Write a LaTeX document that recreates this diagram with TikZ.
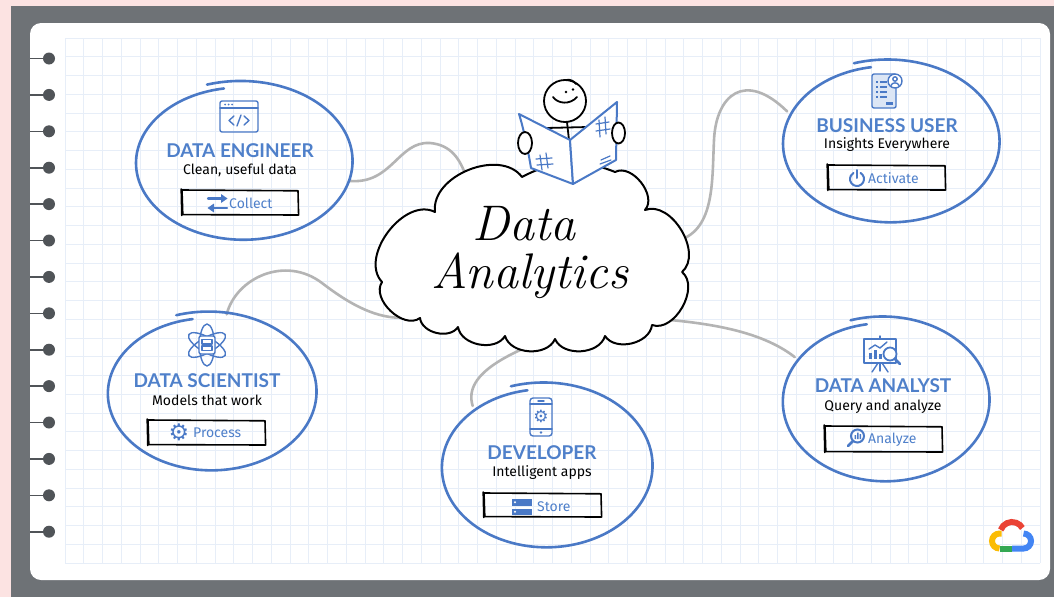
\documentclass[tikz,border=0pt]{standalone}
\usepackage{fontspec}
\usetikzlibrary{shapes.geometric}
\newfontfamily\uifont{Fira Sans}
\newfontfamily\headfont{Lato}
\newfontfamily\glyphfont{DejaVu Sans}

\definecolor{pinkbg}{HTML}{FCE3E2}
\definecolor{framec}{HTML}{6E7276}
\definecolor{holec}{HTML}{505458}
\definecolor{gridc}{HTML}{E7EEF8}
\definecolor{ink}{HTML}{4A79C6}
\definecolor{titleblue}{HTML}{4F80CA}
\definecolor{wirec}{HTML}{B4B4B4}
\definecolor{iconfill}{HTML}{DCE6F5}
\definecolor{gred}{HTML}{EA4335}
\definecolor{gyellow}{HTML}{FBBC04}
\definecolor{ggreen}{HTML}{34A853}
\definecolor{gblue}{HTML}{4285F4}

\tikzset{
  ring/.style={draw=ink, line width=2.6pt, line cap=round},
  wire/.style={draw=wirec, line width=2.6pt, line cap=round},
  zone/.style={ellipse, inner sep=0pt, draw=none},
  title/.style={text=titleblue, font=\headfont\bfseries\fontsize{19}{21}\selectfont, inner sep=0pt},
  tagline/.style={text=black, font=\uifont\fontsize{14}{16}\selectfont, inner sep=0pt},
  btnlabel/.style={text=titleblue, font=\uifont\fontsize{14}{16}\selectfont, inner sep=0pt, anchor=west},
  btnglyph/.style={text=ink, font=\glyphfont\fontsize{23}{23}\selectfont, inner sep=0pt},
  btnframe/.style={draw=black, line width=1.6pt, line join=round, line cap=round},
  iconline/.style={draw=ink, line width=1.4pt, line cap=round, line join=round},
  inkline/.style={draw=black, line width=1.8pt, line cap=round, line join=round},
  bookline/.style={draw=ink, line width=2pt, line cap=round, line join=round},
  logo/.style={line width=6pt},
}

% hand-drawn ring: the stroke starts inside at the top and overlaps itself
\newcommand\sketchring[4]{%
  \draw[ring] plot[domain=100:468, samples=160, smooth]
    ({#1+#3*(0.945+0.085*(\x-100)/368)*cos(\x)},
     {#2-#4*(0.945+0.085*(\x-100)/368)*sin(\x)});}

% slightly uneven button frame
\newcommand\sketchbox[4]{%
  \draw[btnframe] (#1,#2) -- (#3,{#2+0.8}) -- ({#3+0.6},#4) -- ({#1+0.8},{#4-0.4}) -- cycle;
  \draw[btnframe] ({#1-0.8},{#2-1}) -- ({#1-0.2},{#4+0.5});}

\begin{document}
\begin{tikzpicture}[x=1pt,y=-1pt]
\useasboundingbox (0,0) rectangle (1054,597);

% backdrop, frame and notebook page
\fill[pinkbg] (0,0) rectangle (1054,597);
\fill[framec] (11,6) rectangle (1054,597);
\fill[white, rounded corners=11pt] (30,23) rectangle (1050,580);

% squared paper
\foreach \i in {0,...,52}
  \draw[gridc, line width=1pt] ({65+18.75*\i},38) -- ({65+18.75*\i},563);
\foreach \j in {0,...,28}
  \draw[gridc, line width=1pt] (65,{38+18.75*\j}) -- (1040,{38+18.75*\j});

% binding holes
\foreach \k in {0,...,13} {
  \draw[holec, line width=1.6pt] (30,{58.5+36.4*\k}) -- (46,{58.5+36.4*\k});
  \fill[holec] (49,{58.5+36.4*\k}) circle[radius=6];
}

% outline zones of the five roles
\node[zone, minimum width=220pt, minimum height=158pt] (de)  at (242,162)   {};
\node[zone, minimum width=220pt, minimum height=162pt] (bu)  at (889,142.6) {};
\node[zone, minimum width=212pt, minimum height=158pt] (ds)  at (210,392.6) {};
\node[zone, minimum width=214pt, minimum height=164pt] (dev) at (545,466.6) {};
\node[zone, minimum width=210pt, minimum height=164pt] (da)  at (884,400.6) {};

% anchor points on the cloud
\coordinate (cl-nw) at (466,176);
\coordinate (cl-ne) at (680,240);
\coordinate (cl-w)  at (420,315);
\coordinate (cl-s)  at (566,332);
\coordinate (cl-se) at (645,318);

% grey connectors
\draw[wire] (de.-10) .. controls (392,185) and (398,141) .. (430,143)
            .. controls (452,145) and (460,160) .. (cl-nw);
\draw[wire] (cl-ne) .. controls (715,228) and (712,180) .. (714,140)
            .. controls (716,95) and (745,70) .. (bu.163);
\draw[wire] (ds.78) .. controls (236,278) and (285,255) .. (322,283)
            .. controls (352,306) and (385,325) .. (cl-w);
\draw[wire] (dev.140) .. controls (462,372) and (515,350) .. (cl-s);
\draw[wire] (da.154) .. controls (760,330) and (705,322) .. (cl-se);

% rings
\sketchring{242}{162}{110}{79}
\sketchring{889}{142.6}{110}{81}
\sketchring{210}{392.6}{106}{79}
\sketchring{545}{466.6}{107}{82}
\sketchring{884}{400.6}{105}{82}

% central cloud
\draw[black, line width=2pt, fill=white, line join=round]
  (435,212) to[bend left=75] (522,177) to[bend left=25] (615,172)
  to[bend left=80] (645,210) to[bend left=80] (682,272)
  to[bend left=80] (652,325) to[bend left=70] (605,336)
  to[bend left=70] (555,339) to[bend left=70] (505,336)
  to[bend left=70] (458,327) to[bend left=70] (420,318)
  to[bend left=80] (382,282) to[bend left=80] cycle;
\node[font=\itshape\fontsize{50}{50}\selectfont, inner sep=0pt] (word1) at (524,224) {Data};
\node[font=\itshape\fontsize{50}{50}\selectfont, inner sep=0pt] (word2) at (530,276) {Analytics};

% reader sitting on the cloud
\draw[inkline, fill=white] (565,101) circle[radius=21];
\fill (566,92) circle[radius=1.4];
\fill (573,89.5) circle[radius=1.4];
\draw[inkline] (553,97) .. controls (558,104) and (570,105) .. (577,97);
\draw[inkline] (566,80) .. controls (570,79) and (574,81) .. (576,84);
\draw[inkline] (567,122) -- (569,140);
\draw[inkline] (546,128) -- (588,127);
\draw[bookline, fill=white] (519,114) -- (570,140) -- (573,184)
  -- (531,168) .. controls (528,150) and (524,130) .. cycle;
\draw[bookline, fill=white] (570,140) -- (617,102) -- (616,160) -- (573,184) -- cycle;
\draw[ink, line width=1.2pt, line cap=round]
  (540,155) -- (542,170) (546,153) -- (548,168)
  (536,159) -- (552,158) (537,165) -- (553,164)
  (599,120) -- (600,137) (605,117) -- (606,134)
  (596,124) -- (609,122) (596,131) -- (610,129)
  (601,160) -- (610,156) (600,164) -- (611,160);
\draw[inkline, fill=white] (525,143) ellipse[x radius=7, y radius=11];
\draw[inkline, fill=white] (618.5,133) ellipse[x radius=6.5, y radius=10.5];

% ---- Data Engineer
\begin{scope}[shift={(239,116)}]
  \draw[iconline, rounded corners=2pt] (-19,-15) rectangle (19,16);
  \draw[iconline] (-19,-8) -- (19,-8);
  \foreach \d in {-14,-10.5,-7} \fill[ink] (\d,-11.5) circle[radius=1];
  \draw[iconline] (-5,0) -- (-10,4.5) -- (-5,9);
  \draw[iconline] (5,0) -- (10,4.5) -- (5,9);
  \draw[iconline] (2,-1) -- (-2,10);
\end{scope}
\node[title]   (de-title) at (240,151) {DATA ENGINEER};
\node[tagline] (de-sub)   at (240,170) {Clean, useful data};
\sketchbox{182}{190}{298}{215}
% swap arrows
\draw[ink, line width=2.2pt, line cap=round] (208,198.5) -- (223,198.5);
\fill[ink] (221,194) -- (227.5,198.5) -- (221,203) -- cycle;
\draw[ink, line width=2.2pt, line cap=round] (212,208) -- (227,208);
\fill[ink] (214,203.5) -- (207.5,208) -- (214,212.5) -- cycle;
\node[btnlabel] (de-btn) at (229,203) {Collect};

% ---- Business User
\begin{scope}[shift={(886,91)}]
  \draw[iconline, fill=iconfill, rounded corners=2pt] (-14,-17) rectangle (10,17);
  \foreach \r in {-9,-4,1,6} {
    \fill[ink] (-10.5,{\r-1.2}) rectangle (-8,{\r+1.2});
    \draw[ink, line width=1.2pt] (-6,\r) -- (1,\r);
  }
  \fill[ink] (0,11) rectangle (7,13.5);
  \draw[iconline, fill=white] (9,-10) circle[radius=7];
  \draw[iconline] (9,-12) circle[radius=2.2];
  \draw[iconline] (5,-5.5) .. controls (6,-9) and (12,-9) .. (13,-5.5);
\end{scope}
\node[title]   (bu-title) at (887,126) {BUSINESS USER};
\node[tagline] (bu-sub)   at (887,145) {Insights Everywhere};
\sketchbox{828}{165}{945}{190}
\draw[ink, line width=2pt, line cap=round] (857,170) -- (857,178);
\draw[ink, line width=2pt, line cap=round]
  ([shift={(300:7)}]857,179) arc[start angle=300, end angle=600, radius=7];
\node[btnlabel] (bu-btn) at (868,178) {Activate};

% ---- Data Scientist
\begin{scope}[shift={(207,345)}]
  \foreach \a in {30,90,150}
    \draw[iconline, rotate=\a] (0,0) ellipse[x radius=21, y radius=7.5];
  \draw[iconline, fill=white, rounded corners=2pt] (-8,-9) rectangle (8,9);
  \draw[iconline] (-5,-5.5) rectangle (5,-1);
  \draw[iconline] (-5,1) rectangle (5,5.5);
\end{scope}
\node[title]   (ds-title) at (207,381) {DATA SCIENTIST};
\node[tagline] (ds-sub)   at (207,400) {Models that work};
\sketchbox{148}{420}{265}{445}
\node[btnglyph] (ds-glyph) at (179,432.5) {⚙};
\node[btnlabel] (ds-btn)   at (193,433) {Process};

% ---- Developer
\begin{scope}[shift={(541,417)}]
  \draw[iconline, rounded corners=3pt] (-11,-19) rectangle (11,19);
  \draw[iconline] (-11,-13) -- (11,-13);
  \draw[iconline] (-11,12) -- (11,12);
  \draw[iconline] (-3,-16) -- (3,-16);
  \fill[ink] (0,15.5) circle[radius=1.3];
  \node[text=ink, font=\glyphfont\fontsize{17}{17}\selectfont, inner sep=0pt] (dev-gear) at (0,-0.5) {⚙};
\end{scope}
\node[title]   (dev-title) at (542,453) {DEVELOPER};
\node[tagline] (dev-sub)   at (542,473) {Intelligent apps};
\sketchbox{484}{493}{601}{517}
\fill[ink] (512,499) rectangle (532,505.5);
\fill[ink] (512,508.5) rectangle (532,515);
\fill[white] (515,502.2) circle[radius=1.1];
\fill[white] (515,511.7) circle[radius=1.1];
\node[btnlabel] (dev-btn) at (537,507) {Store};

% ---- Data Analyst
\begin{scope}[shift={(882,353)}]
  \draw[iconline] (-18,-14) rectangle (14,10);
  \draw[iconline] (-2,-14) -- (-2,-17);
  \draw[iconline] (-2,10) -- (-2,18);
  \draw[iconline] (-4,10) -- (-10,19);
  \draw[iconline] (0,10) -- (6,19);
  \fill[ink] (-13,0) rectangle (-10,6);
  \fill[ink] (-8,-3) rectangle (-5,6);
  \fill[ink] (-3,1) rectangle (0,6);
  \draw[iconline] (-13,-4) -- (-7,-8) -- (-2,-5) -- (5,-11);
  \draw[iconline, fill=white, line width=1.8pt] (8,1) circle[radius=6.5];
  \draw[ink, line width=2.6pt, line cap=round] (12.8,5.8) -- (18,11);
\end{scope}
\node[title]   (da-title) at (883,386) {DATA ANALYST};
\node[tagline] (da-sub)   at (883,407) {Query and analyze};
\sketchbox{825}{426}{942}{452}
\draw[ink, line width=2pt] (857.5,436) circle[radius=6.5];
\fill[ink] (854.5,435) rectangle (856,439) (857,432.5) rectangle (858.5,439) (859.5,434) rectangle (861,439);
\draw[ink, line width=2.6pt, line cap=round] (853,441) -- (848,446);
\node[btnlabel] (da-btn) at (868,440) {Analyze};

% cloud logo in the corner
\draw[gred, logo] ([shift={(200:12)}]1012,534) arc[start angle=200, end angle=330, radius=12];
\draw[gblue, logo] ([shift={(270:7.5)}]1023.5,541) arc[start angle=270, end angle=450, radius=7.5] -- (1012,548.5);
\draw[ggreen, logo] (1012,548.5) -- (1000,548.5);
\draw[gyellow, logo] ([shift={(90:7.5)}]999.5,541) arc[start angle=90, end angle=270, radius=7.5] -- (1001.5,533.5);
\end{tikzpicture}
\end{document}
